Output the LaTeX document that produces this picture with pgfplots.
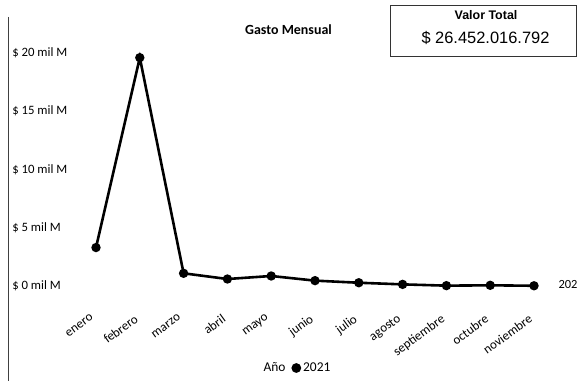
\documentclass[border=0pt]{standalone}
\usepackage{fontspec}
\setmainfont{Carlito}
\newfontfamily\arialf{Liberation Sans}
\usepackage{pgfplots}
\pgfplotsset{compat=1.18}
\begin{document}
\begin{tikzpicture}[x=1bp,y=1bp]
\path[use as bounding box, fill=white] (0,0) rectangle (577,381);
\draw[black!75, line width=0.9bp] (8,364) -- (8,0);
\node[font=\fontsize{14}{16}\selectfont\bfseries] at (288.5,351) {Gasto Mensual};
\draw[black!80, line width=0.8bp] (390,376) rectangle (576,325);
\node[font=\arialf\fontsize{12.5}{14}\selectfont\bfseries] at (486,366) {Valor Total};
\node[font=\arialf\fontsize{16.5}{19}\selectfont] at (485.5,343) {\$ 26.452.016.792};
\begin{axis}[
  at={(74.1bp,83.35bp)}, anchor=south west,
  scale only axis, width=481.8bp, height=256.3bp,
  xmin=-0.5, xmax=10.5, ymin=-1, ymax=21,
  clip=false,
  axis line style={draw=none},
  major tick style={draw=none},
  xtick={0,...,10},
  xticklabels={enero,febrero,marzo,abril,mayo,junio,julio,agosto,septiembre,octubre,noviembre},
  xticklabel style={rotate=36, anchor=north east, xshift=-11bp, yshift=-6bp, font=\fontsize{13}{15}\selectfont},
  ytick={0,5,10,15,20},
  yticklabels={\$ 0 mil M,\$ 5 mil M,\$ 10 mil M,\$ 15 mil M,\$ 20 mil M},
  yticklabel style={anchor=west, inner sep=0pt, xshift=-62bp, font=\fontsize{12.8}{14}\selectfont},
  legend columns=2,
  legend style={at={(0.4626,-0.2745)}, anchor=center, draw=none, fill=none,
    font=\fontsize{13.5}{15}\selectfont, /tikz/every even column/.append style={column sep=4bp}},
]
\addlegendimage{empty legend}\addlegendentry{Año}
\addplot[black, line width=2.6bp, mark=*, mark size=3.3bp,
  legend image code/.code={\fill[black] (0.2em,0) circle (3.5bp);}]
  coordinates {(0,3.30) (1,19.60) (2,1.09) (3,0.60) (4,0.86) (5,0.46) (6,0.28) (7,0.14) (8,0.03) (9,0.06) (10,0.02)};
\addlegendentry{2021}
\node[anchor=west, font=\fontsize{12.5}{14}\selectfont] at (axis cs:10.48,0.1) {2021};
\end{axis}
\end{tikzpicture}
\end{document}
